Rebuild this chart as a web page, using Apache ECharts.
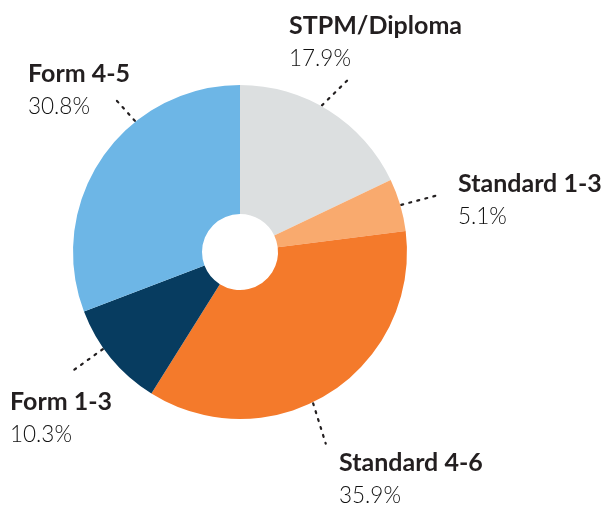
<!DOCTYPE html>
<html><head><meta charset="utf-8">
<script src="https://cdn.jsdelivr.net/npm/echarts@6/dist/echarts.min.js"></script>
<style>html,body{margin:0;padding:0;background:#fff}#c{width:606px;height:505px}</style>
</head><body><div id="c"></div>
<script>
const categories = ['STPM/Diploma', 'Standard 1-3', 'Standard 4-6', 'Form 1-3', 'Form 4-5'];
const values = [17.9, 5.1, 35.9, 10.3, 30.8];
const colors = ['#dcdfe0', '#f9aa6e', '#f47a2b', '#073c60', '#6db6e6'];
// layout styling: label block anchors (left, top), leader start/end angles (deg clockwise from 12 o'clock), leader end radius
const labelAnchors = [[289, 9], [458, 167], [339, 446], [10, 385], [28, 57]];
const leaderStartAngles = [29.2, 73.7, 154.2, 234.7, 321.3];
const leaderEndAngles = [32, 74, 155.9, 234.6, 320.8];
const leaderEndRadii = [202, 208, 210, 209, 198];

const CX = 240, CY = 252, R0 = 38, R1 = 167;
const chart = echarts.init(document.getElementById('c'), null, {renderer: 'canvas'});
chart.setOption({
  animation: false,
  series: [{
    type: 'pie',
    center: [CX, CY],
    radius: [R0, R1],
    startAngle: 90,
    clockwise: true,
    avoidLabelOverlap: false,
    emphasis: {disabled: true},
    data: categories.map((c, i) => ({name: c, value: values[i], itemStyle: {color: colors[i]}})),
    label: {
      show: true,
      position: 'outside',
      formatter: p => '{n|' + p.name + '}\n{p|' + p.value.toFixed(1) + '%}',
      rich: {
        n: {fontFamily: 'Lato', fontWeight: 'bold', fontSize: 25, lineHeight: 33, color: '#231f20'},
        p: {fontFamily: 'Lato', fontWeight: 300, fontSize: 22.5, lineHeight: 33, color: '#111'}
      }
    },
    labelLine: {
      show: true, length: 35, length2: 0, smooth: false,
      lineStyle: {color: '#231f20', width: 2.2, type: [2, 6.3], cap: 'round'}
    },
    labelLayout: function (params) {
      const i = params.dataIndex;
      const a = labelAnchors[i];
      const pt = (deg, r) => {
        const t = deg * Math.PI / 180;
        return [CX + Math.sin(t) * r, CY - Math.cos(t) * r];
      };
      const p1 = pt(leaderStartAngles[i], R1 + 1);
      const p2 = pt(leaderEndAngles[i], leaderEndRadii[i]);
      return {x: a[0], y: a[1], align: 'left', verticalAlign: 'top', labelLinePoints: [p1, p2, p2]};
    }
  }]
});
</script></body></html>
